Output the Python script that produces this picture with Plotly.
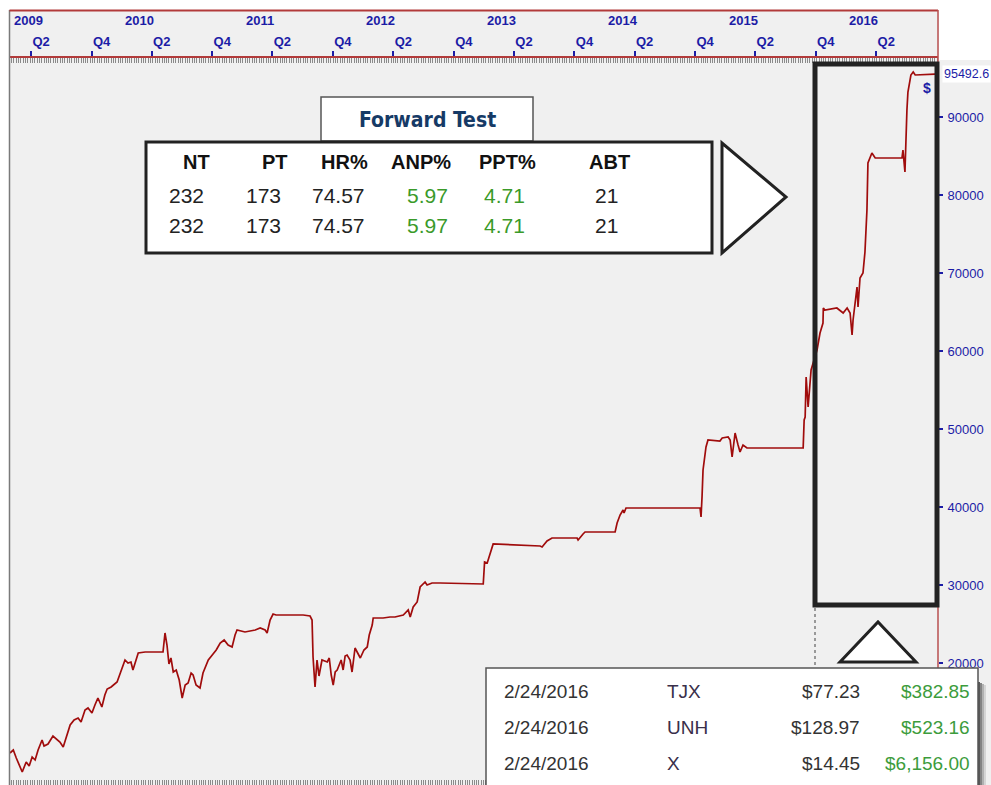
import plotly.graph_objects as go

# ---------------- data ----------------
dates = [
"2009-01-27","2009-02-06","2009-02-15","2009-02-27","2009-03-05","2009-03-17","2009-03-26","2009-04-04","2009-04-13","2009-04-22",
"2009-05-04","2009-05-10","2009-05-22","2009-06-06","2009-06-18","2009-06-27","2009-07-07","2009-07-19","2009-07-28","2009-08-09",
"2009-08-21","2009-08-30","2009-09-11","2009-09-20","2009-10-02","2009-10-11","2009-10-20","2009-11-01","2009-11-10","2009-11-17",
"2009-11-29","2009-12-17","2009-12-23","2010-01-01","2010-01-10","2010-01-19","2010-01-28","2010-02-03","2010-02-12","2010-02-19",
"2010-03-12","2010-05-05","2010-05-11","2010-05-17","2010-05-23","2010-05-29","2010-06-05","2010-06-14","2010-06-23","2010-07-02",
"2010-07-11","2010-07-20","2010-07-29","2010-08-04","2010-08-13","2010-08-25","2010-09-03","2010-09-13","2010-09-19","2010-10-01",
"2010-10-13","2010-10-25","2010-11-06","2010-11-18","2010-11-30","2010-12-09","2010-12-15","2011-01-08","2011-02-08","2011-02-23",
"2011-03-10","2011-03-16","2011-03-25","2011-04-03","2011-04-12","2011-07-03","2011-07-24","2011-07-30","2011-08-02","2011-08-08",
"2011-08-14","2011-08-20","2011-08-29","2011-09-14","2011-09-20","2011-09-26","2011-10-02","2011-10-08","2011-10-14","2011-10-26",
"2011-11-01","2011-11-07","2011-11-13","2011-11-22","2011-11-28","2011-12-07","2011-12-13","2011-12-23","2012-01-03","2012-01-13",
"2012-01-19","2012-01-28","2012-01-31","2012-03-01","2012-03-22","2012-04-06","2012-05-01","2012-05-16","2012-05-22","2012-05-31",
"2012-06-12","2012-06-21","2012-07-06","2012-07-12","2012-07-27","2012-08-21","2012-12-29","2013-01-02","2013-01-10","2013-01-19",
"2013-01-28","2013-06-19","2013-06-25","2013-07-10","2013-07-25","2013-10-09","2013-10-12","2013-10-27","2013-11-02","2014-02-01",
"2014-02-07","2014-02-16","2014-02-25","2014-02-28","2014-03-06","2014-10-16","2014-10-19","2014-10-22","2014-10-25","2014-11-03",
"2014-11-09","2014-12-15","2014-12-22","2015-01-09","2015-01-15","2015-01-21","2015-01-30","2015-02-08","2015-02-14","2015-02-23",
"2015-03-07","2015-08-24","2015-08-27","2015-08-30","2015-09-02","2015-09-08","2015-09-17","2015-10-05","2015-10-14","2015-10-23",
"2015-10-24","2015-10-29","2015-12-04","2015-12-23","2016-01-04","2016-01-13","2016-01-19","2016-01-22","2016-02-03","2016-02-06",
"2016-02-12","2016-02-21","2016-02-27","2016-03-04","2016-03-05","2016-03-07","2016-03-19","2016-03-29","2016-06-18","2016-06-21",
"2016-06-27","2016-06-30","2016-07-03","2016-07-06","2016-07-15","2016-07-22","2016-07-28","2016-09-26"]

equity = [
8462, 8847, 7821, 6539, 6026, 7308, 6795, 7949, 7565, 8847,
10129, 9359, 9616, 10641, 10129, 9872, 9231, 11026, 12052, 12693,
12949, 12436, 13975, 14231, 13590, 14616, 15513, 14359, 15898, 16667,
16923, 17564, 18333, 19359, 20385, 20000, 20128, 19103, 20385, 21282,
21410, 21410, 23846, 22308, 19872, 20641, 18846, 19103, 17821, 15513,
17180, 17436, 18718, 18462, 17180, 16795, 18718, 19744, 20385, 21026,
21667, 22564, 22949, 22308, 22051, 23590, 24231, 23974, 24231, 24487,
24231, 23846, 25513, 26282, 26154, 26154, 26025, 25513, 20769, 16923,
20385, 18333, 20385, 20128, 20641, 18462, 17180, 18846, 19103, 20385,
19103, 20897, 21026, 20385, 18846, 21923, 21410, 20641, 21667, 22051,
23590, 24872, 25769, 25769, 25897, 25897, 26154, 26795, 25897, 27179,
27820, 29743, 30384, 30000, 30256, 30256, 30128, 32948, 32820, 34102,
35256, 34999, 34871, 35640, 36025, 36025, 35769, 36538, 36794, 36794,
37948, 38974, 39615, 39230, 39871, 39871, 38717, 41281, 44743, 47691,
48589, 48460, 48845, 48973, 48589, 46409, 49486, 47948, 47050, 47948,
47563, 47563, 51153, 51537, 56665, 52819, 57563, 60127, 62306, 63588,
65511, 65255, 65511, 64870, 65511, 64870, 62050, 63973, 68203, 65639,
69357, 69998, 72690, 78075, 81536, 84100, 85382, 84741, 84741, 85767,
82946, 89228, 90895, 93202, 95382, 95766, 95382, 95492.6]

last_value_label = "95492.6"
y_ticks = [20000, 30000, 40000, 50000, 60000, 70000, 80000, 90000]
y_tick_labels = ["20000", "30000", "40000", "50000", "60000", "70000", "80000", "90000"]
x_range = ["2009-01-27", "2016-10-05"]
y_range = [4360, 97561]
years = [2009, 2010, 2011, 2012, 2013, 2014, 2015, 2016]
quarter_ticks = ["2009-04-01", "2009-10-01", "2010-04-01", "2010-10-01", "2011-04-01", "2011-10-01",
                 "2012-04-01", "2012-10-01", "2013-04-01", "2013-10-01", "2014-04-01", "2014-10-01",
                 "2015-04-01", "2015-10-01", "2016-04-01"]
quarter_labels = ["Q2", "Q4"] * 7 + ["Q2"]

ft_title = "Forward Test"
ft_headers = ["NT", "PT", "HR%", "ANP%", "PPT%", "ABT"]
ft_rows = [["232", "173", "74.57", "5.97", "4.71", "21"],
           ["232", "173", "74.57", "5.97", "4.71", "21"]]

trade_dates = ["2/24/2016", "2/24/2016", "2/24/2016"]
trade_tickers = ["TJX", "UNH", "X"]
trade_prices = ["$77.23", "$128.97", "$14.45"]
trade_pl = ["$382.85", "$523.16", "$6,156.00"]

# ---------------- layout helpers ----------------
W, H = 991, 785
ML, MR, MT, MB = 10, 53, 58, 0
PW, PH = W - ML - MR, H - MT - MB


def px(x):
    return (x - ML) / PW


def py(y):
    return (H - MB - y) / PH


NAVY = "#1c1ca6"
RED = "#a00c0c"
BG = "#f0f0f0"
WEEK = 7 * 24 * 3600 * 1000
SANS = "Liberation Sans, Arial, sans-serif"

fig = go.Figure()
fig.add_trace(go.Scatter(x=dates, y=equity, mode="lines",
                         line=dict(color=RED, width=1.7), hoverinfo="skip",
                         showlegend=False))
# invisible trace on the top axis so that it renders
fig.add_trace(go.Scatter(x=[x_range[0]], y=[y_range[0]], xaxis="x2", mode="markers",
                         marker=dict(size=0.1, opacity=0), showlegend=False, hoverinfo="skip"))

shapes = []
annotations = []

# frame elements
shapes.append(dict(type="rect", xref="paper", yref="paper", x0=px(0), x1=px(W), y0=py(10), y1=py(0),
                   fillcolor="white", line=dict(width=0), layer="below"))
shapes.append(dict(type="rect", xref="paper", yref="paper", x0=px(0), x1=px(9), y0=py(H), y1=py(0),
                   fillcolor="white", line=dict(width=0), layer="below"))
shapes.append(dict(type="rect", xref="paper", yref="paper", x0=px(939), x1=px(W), y0=py(60), y1=py(0),
                   fillcolor="white", line=dict(width=0), layer="below"))
shapes.append(dict(type="line", xref="paper", yref="paper", x0=px(9.5), x1=px(9.5), y0=py(10), y1=py(H),
                   line=dict(color="#7a7a7a", width=1.5)))
shapes.append(dict(type="line", xref="paper", yref="paper", x0=px(9.5), x1=px(938), y0=py(10.5), y1=py(10.5),
                   line=dict(color="#b23a3a", width=2)))
shapes.append(dict(type="line", xref="paper", yref="paper", x0=px(938), x1=px(938), y0=py(10), y1=py(H),
                   line=dict(color="#b85050", width=1.5)))

# Forward test title box
shapes.append(dict(type="rect", xref="paper", yref="paper", x0=px(321), x1=px(533), y0=py(141), y1=py(97),
                   fillcolor="white", line=dict(color="#555555", width=1.5), layer="above"))
annotations.append(dict(xref="paper", yref="paper", x=px(427), y=py(120), text="<b>%s</b>" % ft_title,
                        showarrow=False, xanchor="center", yanchor="middle",
                        font=dict(family="DejaVu Sans Condensed, Liberation Sans Narrow, sans-serif",
                                  size=21, color="#163a66")))
# stats table box
shapes.append(dict(type="rect", xref="paper", yref="paper", x0=px(146), x1=px(712), y0=py(253), y1=py(142),
                   fillcolor="white", line=dict(color="#222222", width=3), layer="above"))
head_x = [196, 275, 344, 421, 507, 609]
val_x = [186, 263, 338, 427, 504, 606]
val_colors = ["#222222", "#222222", "#222222", "#3a9a2a", "#3a9a2a", "#222222"]
for i, h in enumerate(ft_headers):
    annotations.append(dict(xref="paper", yref="paper", x=px(head_x[i]), y=py(162), text="<b>%s</b>" % h,
                            showarrow=False, xanchor="center", yanchor="middle",
                            font=dict(family=SANS, size=20, color="#111111")))
for row, yy in zip(ft_rows, [195, 225]):
    for i, v in enumerate(row):
        annotations.append(dict(xref="paper", yref="paper", x=px(val_x[i]), y=py(yy), text=v,
                                showarrow=False, xanchor="center", yanchor="middle",
                                font=dict(family=SANS, size=21, color=val_colors[i])))
# right-pointing triangle
shapes.append(dict(type="path", xref="paper", yref="paper",
                   path="M %f %f L %f %f L %f %f Z" % (px(722), py(143), px(722), py(253), px(786), py(197)),
                   fillcolor="white", line=dict(color="#222222", width=3), layer="above"))
# highlight rectangle
shapes.append(dict(type="rect", xref="paper", yref="paper", x0=px(815), x1=px(937), y0=py(605), y1=py(64),
                   fillcolor="rgba(0,0,0,0)", line=dict(color="#222222", width=5), layer="above"))
# dotted connector
shapes.append(dict(type="line", xref="paper", yref="paper", x0=px(815), x1=px(815), y0=py(608), y1=py(668),
                   line=dict(color="#999999", width=2, dash="dot"), layer="above"))
# up triangle
shapes.append(dict(type="path", xref="paper", yref="paper",
                   path="M %f %f L %f %f L %f %f Z" % (px(840), py(662), px(916), py(662), px(878), py(622)),
                   fillcolor="white", line=dict(color="#222222", width=3), layer="above"))
# trades table shadow + box
for k, op in enumerate([0.85, 0.6, 0.35, 0.15]):
    shapes.append(dict(type="rect", xref="paper", yref="paper", x0=px(978 + 2 * k), x1=px(980 + 2 * k),
                       y0=py(H + 5), y1=py(682 + k), fillcolor="rgba(60,60,60,%.2f)" % op,
                       line=dict(width=0), layer="above"))
shapes.append(dict(type="rect", xref="paper", yref="paper", x0=px(486), x1=px(978), y0=py(H + 5), y1=py(668),
                   fillcolor="white", line=dict(color="#555555", width=1.5), layer="above"))
rows_y = [691, 727, 763]
for i in range(3):
    f = dict(family=SANS, size=19)
    annotations.append(dict(xref="paper", yref="paper", x=px(502), y=py(rows_y[i]), text=trade_dates[i],
                            showarrow=False, xanchor="left", yanchor="middle", font=dict(f, color="#333333")))
    annotations.append(dict(xref="paper", yref="paper", x=px(665), y=py(rows_y[i]), text=trade_tickers[i],
                            showarrow=False, xanchor="left", yanchor="middle", font=dict(f, color="#3a2f4a")))
    annotations.append(dict(xref="paper", yref="paper", x=px(862), y=py(rows_y[i]), text=trade_prices[i],
                            showarrow=False, xanchor="right", yanchor="middle", font=dict(f, color="#333333")))
    annotations.append(dict(xref="paper", yref="paper", x=px(972), y=py(rows_y[i]), text=trade_pl[i],
                            showarrow=False, xanchor="right", yanchor="middle", font=dict(f, color="#3c9c3c")))

# year labels on the top band
for yr in years:
    if yr == years[0]:
        annotations.append(dict(xref="paper", yref="paper", x=px(12), y=py(21), text="<b>%d</b>" % yr,
                                showarrow=False, xanchor="left", yanchor="middle",
                                font=dict(family=SANS, size=13, color=NAVY)))
    else:
        annotations.append(dict(xref="x", yref="paper", x="%d-01-01" % yr, y=py(21), text="<b>%d</b>" % yr,
                                showarrow=False, xanchor="left", yanchor="middle", xshift=1,
                                font=dict(family=SANS, size=13, color=NAVY)))
# last value label and $ sign
annotations.append(dict(xref="paper", yref="y", x=px(942), y=equity[-1], text=last_value_label,
                        showarrow=False, xanchor="left", yanchor="middle", bgcolor="white", borderpad=1,
                        font=dict(family=SANS, size=12.5, color=NAVY)))
annotations.append(dict(xref="paper", yref="paper", x=px(927), y=py(88), text="<b>$</b>",
                        showarrow=False, xanchor="center", yanchor="middle",
                        font=dict(family=SANS, size=14, color=NAVY)))

fig.update_layout(
    width=W, height=H,
    margin=dict(l=ML, r=MR, t=MT, b=MB, pad=0),
    paper_bgcolor=BG, plot_bgcolor=BG,
    showlegend=False,
    xaxis=dict(type="date", range=x_range, showgrid=False, zeroline=False, showline=False,
               ticks="inside", ticklen=5, tickwidth=1, tickcolor="#8a8a8a",
               tickmode="linear", tick0="2009-01-04", dtick=WEEK, showticklabels=False,
               automargin=False, fixedrange=True),
    xaxis2=dict(type="date", range=x_range, overlaying="x", side="top", anchor="y",
                showgrid=False, zeroline=False, showline=True, linecolor="#b23a3a", linewidth=1.5,
                tickmode="array", tickvals=quarter_ticks, ticktext=["<b>%s</b>" % q for q in quarter_labels],
                ticks="outside", ticklen=5, tickwidth=1.5, tickcolor=NAVY,
                tickfont=dict(family=SANS, size=13, color=NAVY),
                ticklabelshift=10, ticklabelstandoff=0,
                minor=dict(ticks="inside", ticklen=5, tickwidth=1, tickcolor="#8a8a8a",
                           tickmode="linear", tick0="2009-01-04", dtick=WEEK, showgrid=False),
                automargin=False, fixedrange=True),
    yaxis=dict(range=y_range, side="right", showgrid=False, zeroline=False, showline=False,
               tickmode="array", tickvals=y_ticks, ticktext=y_tick_labels,
               ticks="outside", ticklen=4, tickwidth=1.5,
               tickcolor=NAVY, tickfont=dict(family=SANS, size=13, color=NAVY),
               ticklabelstandoff=2, automargin=False, fixedrange=True),
    shapes=shapes,
    annotations=annotations,
)

fig.write_html("out.html", config={"displayModeBar": False},
               post_script="document.body.style.margin='0';document.body.style.overflow='hidden';")
